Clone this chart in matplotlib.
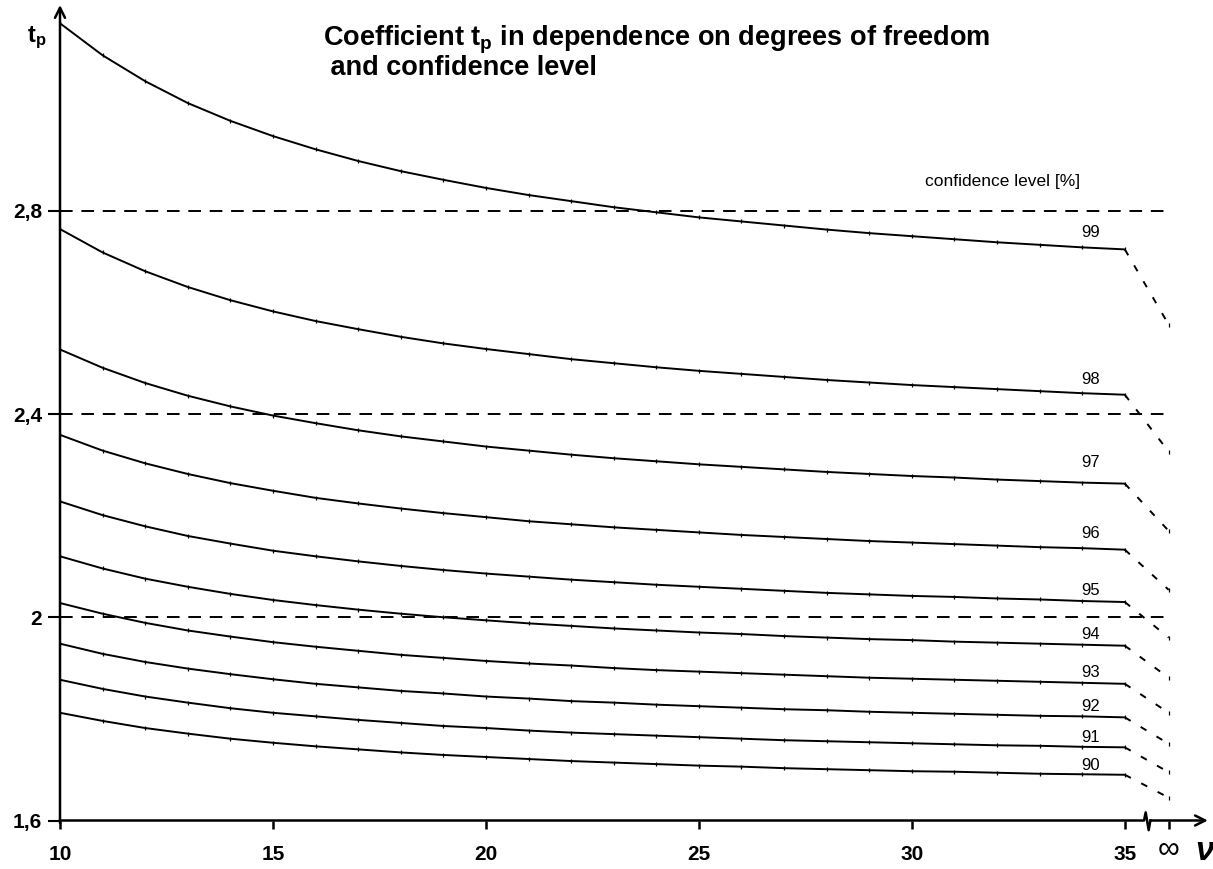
import matplotlib
matplotlib.use('Agg')
import matplotlib.pyplot as plt

plt.rcParams['font.family'] = ['Liberation Sans', 'DejaVu Sans']
plt.rcParams['mathtext.fontset'] = 'custom'
plt.rcParams['mathtext.rm'] = 'Liberation Sans'
plt.rcParams['mathtext.bf'] = 'Liberation Sans:bold'
plt.rcParams['mathtext.it'] = 'Liberation Sans:italic'

# degrees of freedom
dof = [10, 11, 12, 13, 14, 15, 16, 17, 18, 19, 20, 21, 22,
       23, 24, 25, 26, 27, 28, 29, 30, 31, 32, 33, 34, 35]
levels = ['90', '91', '92', '93', '94', '95', '96', '97', '98', '99']

t90 = [1.812, 1.796, 1.782, 1.771, 1.761, 1.753, 1.746, 1.740, 1.734, 1.729, 1.725, 1.721, 1.717,
       1.714, 1.711, 1.708, 1.706, 1.703, 1.701, 1.699, 1.697, 1.696, 1.694, 1.692, 1.691, 1.690]
t91 = [1.877, 1.859, 1.844, 1.832, 1.821, 1.812, 1.805, 1.798, 1.792, 1.786, 1.782, 1.777, 1.773,
       1.770, 1.767, 1.764, 1.761, 1.758, 1.756, 1.754, 1.752, 1.750, 1.748, 1.747, 1.745, 1.744]
t92 = [1.948, 1.928, 1.912, 1.899, 1.888, 1.878, 1.869, 1.862, 1.855, 1.850, 1.844, 1.840, 1.835,
       1.832, 1.828, 1.825, 1.822, 1.819, 1.817, 1.814, 1.812, 1.810, 1.808, 1.806, 1.805, 1.803]
t93 = [2.028, 2.007, 1.989, 1.974, 1.962, 1.951, 1.942, 1.934, 1.926, 1.920, 1.914, 1.909, 1.905,
       1.900, 1.896, 1.893, 1.890, 1.887, 1.884, 1.881, 1.879, 1.877, 1.875, 1.873, 1.871, 1.869]
t94 = [2.120, 2.096, 2.076, 2.060, 2.046, 2.034, 2.024, 2.015, 2.007, 2.000, 1.994, 1.988, 1.983,
       1.978, 1.974, 1.970, 1.967, 1.963, 1.960, 1.957, 1.955, 1.952, 1.950, 1.948, 1.946, 1.944]
t95 = [2.228, 2.201, 2.179, 2.160, 2.145, 2.131, 2.120, 2.110, 2.101, 2.093, 2.086, 2.080, 2.074,
       2.069, 2.064, 2.060, 2.056, 2.052, 2.048, 2.045, 2.042, 2.040, 2.037, 2.035, 2.032, 2.030]
t96 = [2.359, 2.328, 2.303, 2.282, 2.264, 2.249, 2.235, 2.224, 2.214, 2.205, 2.197, 2.189, 2.183,
       2.177, 2.172, 2.167, 2.162, 2.158, 2.154, 2.150, 2.147, 2.144, 2.141, 2.138, 2.136, 2.133]
t97 = [2.527, 2.491, 2.461, 2.436, 2.415, 2.397, 2.382, 2.368, 2.356, 2.346, 2.336, 2.328, 2.320,
       2.313, 2.307, 2.301, 2.296, 2.291, 2.286, 2.282, 2.278, 2.275, 2.271, 2.268, 2.265, 2.263]
t98 = [2.764, 2.718, 2.681, 2.650, 2.624, 2.602, 2.583, 2.567, 2.552, 2.539, 2.528, 2.518, 2.508,
       2.500, 2.492, 2.485, 2.479, 2.473, 2.467, 2.462, 2.457, 2.453, 2.449, 2.445, 2.441, 2.438]
t99 = [3.169, 3.106, 3.055, 3.012, 2.977, 2.947, 2.921, 2.898, 2.878, 2.861, 2.845, 2.831, 2.819,
       2.807, 2.797, 2.787, 2.779, 2.771, 2.763, 2.756, 2.750, 2.744, 2.738, 2.733, 2.728, 2.724]
# values for infinite degrees of freedom
t_inf = [1.645, 1.695, 1.751, 1.812, 1.881, 1.960, 2.054, 2.170, 2.326, 2.576]

curves = [t90, t91, t92, t93, t94, t95, t96, t97, t98, t99]
inf_x = 36.03
ref_lines = [2.0, 2.4, 2.8]
label_dy = [7, 7, 8, 8.5, 8, 8.5, 11.5, 15, 11, 12]

fig = plt.figure(figsize=(12.13, 8.69), dpi=100)
fig.patch.set_facecolor('white')
ax = fig.add_axes([60/1213, 48.5/869, 1150/1213, 815.5/869])
ax.set_xlim(10, 37)
ax.set_ylim(1.6, 3.205)
for s in ax.spines.values():
    s.set_visible(False)

for y in ref_lines:
    ax.plot([10, inf_x], [y, y], color='black', lw=1.4, ls=(0, (6.5, 4.5)))

for lab, vals, vinf, dy in zip(levels, curves, t_inf, label_dy):
    ax.plot(dof, vals, color='black', lw=1.4, marker='|', ms=3.5, mew=0.9)
    ax.plot([dof[-1], inf_x], [vals[-1], vinf], color='black', lw=1.4, ls=(0, (3.5, 6)))
    ax.plot([inf_x], [vinf], color='black', marker='|', ms=3.5, mew=0.9)
    ax.annotate(lab, (34.2, vals[-1]), xytext=(0, dy), textcoords='offset points',
                ha='center', va='center', fontsize=12)

# axes with arrows
ax.annotate('', xy=(10, 3.205), xytext=(10, 1.595),
            arrowprops=dict(arrowstyle='->', lw=1.8, color='black', mutation_scale=18,
                            shrinkA=0, shrinkB=0), annotation_clip=False)
ax.plot([10, 35.45, 35.49, 35.56, 35.6], [1.6, 1.6, 1.616, 1.581, 1.6],
        color='black', lw=1.8, clip_on=False)
ax.annotate('', xy=(36.95, 1.6), xytext=(35.6, 1.6),
            arrowprops=dict(arrowstyle='->', lw=1.8, color='black', mutation_scale=18,
                            shrinkA=0, shrinkB=0), annotation_clip=False)

ax.set_xticks([10, 15, 20, 25, 30, 35, inf_x])
ax.set_xticklabels(['10', '15', '20', '25', '30', '35', ''])
ax.set_yticks([1.6, 2.0, 2.4, 2.8])
ax.set_yticklabels(['1,6', '2', '2,4', '2,8'])
ax.tick_params(axis='x', direction='out', length=6, width=1.8, pad=12, labelsize=15)
ax.tick_params(axis='y', direction='out', length=9, width=1.5, pad=4, labelsize=15)
for l in ax.get_xticklabels() + ax.get_yticklabels():
    l.set_fontweight('bold')

ax.text(32.14, 2.857, 'confidence level [%]', ha='center', va='center', fontsize=12.5)

fig.text(323/1213, 1 - 45/869, 'Coefficient $\\mathbf{t_p}$ in dependence on degrees of freedom',
         fontsize=19.5, fontweight='bold', ha='left', va='baseline')
fig.text(323/1213, 1 - 75/869, ' and confidence level',
         fontsize=19.5, fontweight='bold', ha='left', va='baseline')
fig.text(27/1213, 1 - 42/869, '$\\mathbf{t_p}$', fontsize=17, ha='left', va='baseline')
fig.text(1169/1213, 1 - 849/869, '∞', fontsize=22, ha='center', va='center')
fig.text(1195/1213, 1 - 852/869, 'ν', fontsize=24, fontweight='bold', fontstyle='italic',
         ha='left', va='center')

fig.savefig('out.png', dpi=100, facecolor='white')
